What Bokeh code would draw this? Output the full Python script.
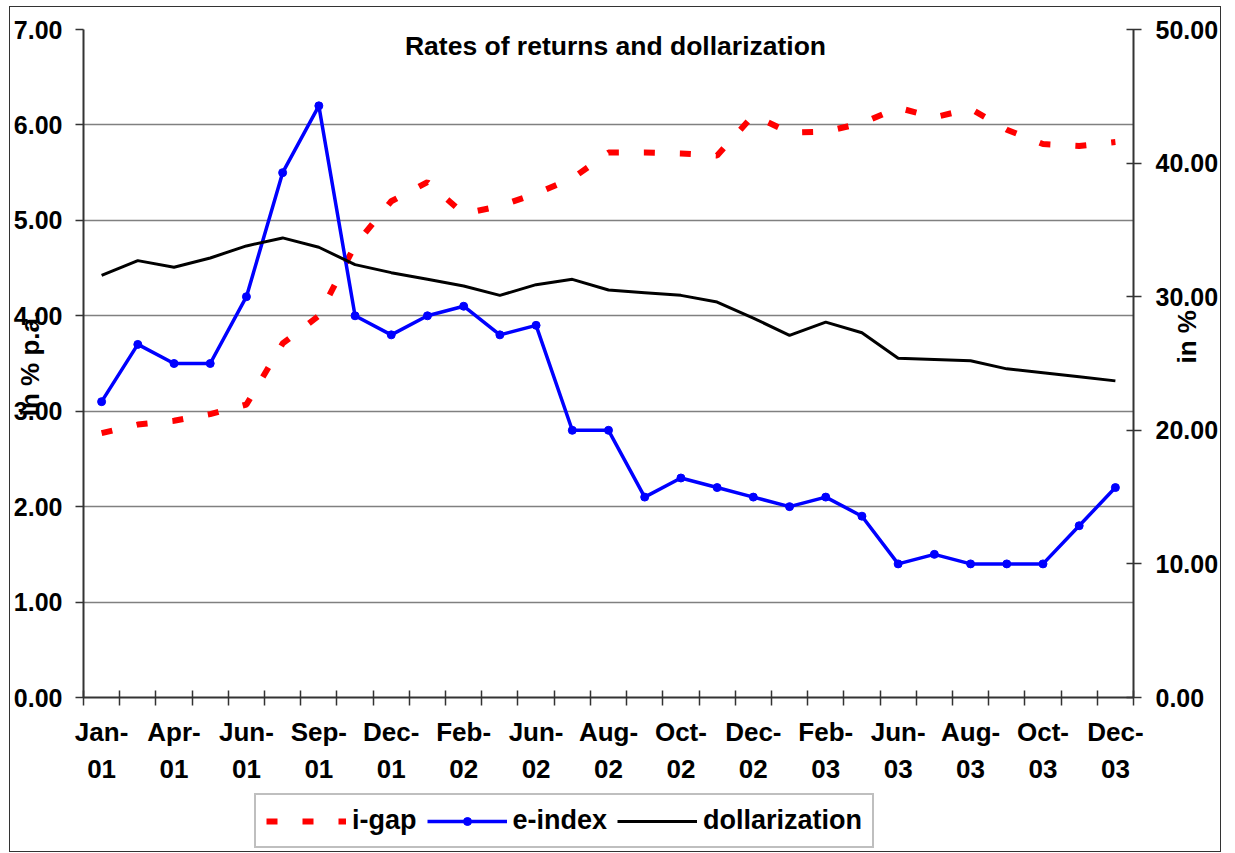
import math
from bokeh.plotting import figure
from bokeh.layouts import column
from bokeh.models import (Range1d, LinearAxis, FixedTicker, NumeralTickFormatter,
                          Legend, LegendItem, Label)
from bokeh.embed import file_html
from bokeh.resources import INLINE

FONT = "Liberation Sans"

# ---- data ----
tick_labels = ["Jan-01", "Apr-01", "Jun-01", "Sep-01", "Dec-01", "Feb-02", "Jun-02",
               "Aug-02", "Oct-02", "Dec-02", "Feb-03", "Jun-03", "Aug-03", "Oct-03", "Dec-03"]
i_gap = [2.77, 2.86, 2.90, 2.97, 3.07, 3.71, 4.00, 4.74, 5.20, 5.40, 5.07, 5.15, 5.28, 5.44,
         5.71, 5.71, 5.70, 5.68, 6.10, 5.92, 5.93, 6.02, 6.18, 6.08, 6.17, 5.95, 5.80, 5.78, 5.82]
e_index = [3.1, 3.7, 3.5, 3.5, 4.2, 5.5, 6.2, 4.0, 3.8, 4.0, 4.1, 3.8, 3.9, 2.8, 2.8, 2.1,
           2.3, 2.2, 2.1, 2.0, 2.1, 1.9, 1.4, 1.5, 1.4, 1.4, 1.4, 1.8, 2.2]
dollarization = [31.6, 32.7, 32.2, 32.9, 33.8, 34.4, 33.7, 32.4, 31.8, 31.3, 30.8, 30.1, 30.9,
                 31.3, 30.5, 30.3, 30.1, 29.6, 28.4, 27.1, 28.1, 27.3, 25.4, 25.3, 25.2, 24.6,
                 24.3, 24.0, 23.7]
series_names = ["i-gap", "e-index", "dollarization"]
left_ticks = [0, 1, 2, 3, 4, 5, 6, 7]
right_ticks = [0, 10, 20, 30, 40, 50]

n = len(e_index)
x = list(range(n))
label_every = 2

GAP_STYLE = dict(line_color="#FF0000", line_width=6, line_dash="11 25")
E_STYLE = dict(line_color="#0000FF", line_width=3.5)
E_MARK = dict(marker="circle", size=8, fill_color="#0000FF", line_color="#0000FF")
D_STYLE = dict(line_color="black", line_width=3)

p = figure(width=1210, height=782, output_backend="svg", toolbar_location=None,
           x_range=Range1d(-0.5, n - 0.5), y_range=Range1d(0, 7),
           min_border_left=73, min_border_right=84, min_border_top=22, min_border_bottom=92)
p.extra_y_ranges = {"right": Range1d(0, 50)}
p.outline_line_color = None
p.background_fill_color = "white"
p.border_fill_color = "white"

# x axis
xa = p.xaxis[0]
xa.ticker = FixedTicker(ticks=x[::label_every], minor_ticks=[i - 0.5 for i in range(n + 1)])
xa.major_label_overrides = {x[k * label_every]: lab.replace("-", "-\n")
                            for k, lab in enumerate(tick_labels)}
xa.major_tick_out = 0
xa.major_tick_in = 0
xa.minor_tick_out = 8
xa.minor_tick_in = 7
xa.minor_tick_line_color = "#333333"
xa.minor_tick_line_width = 1.5
xa.axis_line_color = "#333333"
xa.axis_line_width = 2
xa.major_label_text_font = FONT
xa.major_label_text_font_style = "bold"
xa.major_label_text_font_size = "26px"
xa.major_label_text_color = "black"
xa.major_label_text_line_height = 1.25
xa.major_label_standoff = 11
p.xgrid.grid_line_color = None

# left y axis
ya = p.yaxis[0]
ya.ticker = FixedTicker(ticks=left_ticks)
ya.formatter = NumeralTickFormatter(format="0.00")
ya.major_tick_out = 8
ya.major_tick_in = 0
ya.minor_tick_line_color = None
ya.major_tick_line_color = "#333333"
ya.major_tick_line_width = 1.5
ya.axis_line_color = "#333333"
ya.axis_line_width = 2
ya.major_label_text_font = FONT
ya.major_label_text_font_style = "bold"
ya.major_label_text_font_size = "25px"
ya.major_label_text_color = "black"
ya.major_label_standoff = 13
ya.axis_label = "in % p.a."
ya.axis_label_text_font = FONT
ya.axis_label_text_font_style = "bold"
ya.axis_label_text_font_size = "26px"
ya.axis_label_text_color = "black"
ya.axis_label_standoff = -34
p.ygrid.ticker = FixedTicker(ticks=left_ticks)
p.ygrid.grid_line_color = "#808080"
p.ygrid.grid_line_width = 1.5

# right y axis
ra = LinearAxis(y_range_name="right", ticker=FixedTicker(ticks=right_ticks),
                formatter=NumeralTickFormatter(format="0.00"))
ra.major_tick_out = 8
ra.major_tick_in = 7
ra.minor_tick_line_color = None
ra.major_tick_line_color = "#333333"
ra.major_tick_line_width = 1.5
ra.axis_line_color = "#333333"
ra.axis_line_width = 2
ra.major_label_text_font = FONT
ra.major_label_text_font_style = "bold"
ra.major_label_text_font_size = "25px"
ra.major_label_text_color = "black"
ra.major_label_standoff = 14
ra.axis_label = "in %"
ra.axis_label_text_font = FONT
ra.axis_label_text_font_style = "bold"
ra.axis_label_text_font_size = "26px"
ra.axis_label_text_color = "black"
ra.axis_label_standoff = -34
if "axis_label_orientation" in ra.properties():
    ra.axis_label_orientation = math.pi / 2
p.add_layout(ra, "right")

# series
p.line(x, i_gap, **GAP_STYLE)
p.line(x, e_index, **E_STYLE)
p.scatter(x, e_index, **E_MARK)
p.line(x, dollarization, y_range_name="right", **D_STYLE)

# title
p.add_layout(Label(x=532, y=652, x_units="screen", y_units="screen",
                   text="Rates of returns and dollarization", text_font=FONT,
                   text_font_style="bold", text_font_size="26.5px", text_align="center",
                   text_baseline="middle", text_color="black"))

# ---- legend strip (series drawn outside its visible range; only legend shows) ----
q = figure(width=1210, height=62, output_backend="svg", toolbar_location=None,
           x_axis_location=None, y_axis_location=None, min_border=0,
           x_range=Range1d(-0.5, n - 0.5), y_range=Range1d(1000, 1001))
q.outline_line_color = None
q.xgrid.grid_line_color = None
q.ygrid.grid_line_color = None
q.border_fill_color = "white"
q.background_fill_color = "white"
lg_gap = q.line(x, i_gap, **GAP_STYLE)
lg_e = q.line(x, e_index, **E_STYLE)
lg_em = q.scatter(x, e_index, **E_MARK)
lg_d = q.line(x, dollarization, **D_STYLE)

legend = Legend(items=[LegendItem(label=series_names[0], renderers=[lg_gap]),
                       LegendItem(label=series_names[1], renderers=[lg_e, lg_em]),
                       LegendItem(label=series_names[2], renderers=[lg_d])],
                orientation="horizontal", location=(171, 3),
                glyph_width=80, glyph_height=20, spacing=10, label_standoff=6,
                padding=10, margin=0, border_line_color="#808080", border_line_width=2,
                label_text_font=FONT, label_text_font_style="bold",
                label_text_font_size="27px", label_text_color="black",
                background_fill_alpha=1.0)
q.add_layout(legend, "center")

layout = column(p, q, spacing=0)
layout.styles = {"border": "1.5px solid #333333", "margin-left": "9px", "margin-top": "6px"}

open("out.html", "w").write(file_html(layout, INLINE))
